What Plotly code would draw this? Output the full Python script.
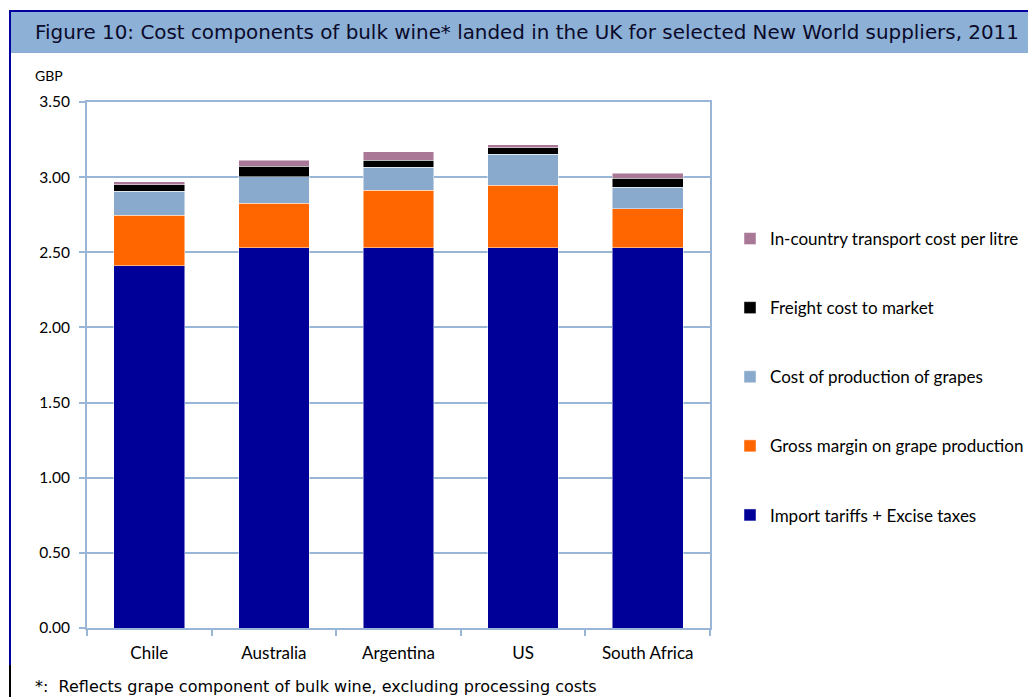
import plotly.graph_objects as go

countries = ["Chile", "Australia", "Argentina", "US", "South Africa"]
import_tariffs = [2.41, 2.53, 2.53, 2.53, 2.53]
gross_margin = [0.335, 0.297, 0.384, 0.417, 0.26]
cost_production = [0.16, 0.176, 0.153, 0.205, 0.144]
freight = [0.043, 0.069, 0.045, 0.042, 0.06]
in_country = [0.022, 0.04, 0.058, 0.02, 0.031]

series = [
    ("Import tariffs + Excise taxes", import_tariffs, "#000099"),
    ("Gross margin on grape production", gross_margin, "#FF6600"),
    ("Cost of production of grapes", cost_production, "#8AAACD"),
    ("Freight cost to market", freight, "#000000"),
    ("In-country transport cost per litre", in_country, "#A97897"),
]

W, H = 1028, 697
L, R, T, B = 87, 710, 102, 628

def px(x):
    return (x - L) / (R - L)

def py(y):
    return (B - y) / (B - T)

fig = go.Figure()
n = len(series)
for i, (name, vals, col) in enumerate(series):
    fig.add_trace(go.Bar(
        x=countries, y=vals, name=name,
        marker=dict(color=col, line=dict(color="rgba(255,255,255,0.6)", width=0.8)),
        legendgroup=f"g{i}",
        legendrank=(n - i) * 10,
    ))

grid_col = "#9AB6D6"
fig.update_layout(
    barmode="stack",
    bargap=0.433,
    width=W, height=H,
    margin=dict(l=L, r=W - R, t=T, b=H - B, autoexpand=False),
    paper_bgcolor="white",
    plot_bgcolor="white",
    font=dict(family="Lato", size=15, color="#000000"),
    showlegend=True,
    legend=dict(
        traceorder="grouped",
        x=px(730), y=py(221), xanchor="left", yanchor="top",
        tracegroupgap=44,
        font=dict(family="Lato", size=17, color="#000000"),
        itemwidth=30,
        bgcolor="rgba(0,0,0,0)",
    ),
    xaxis=dict(
        showgrid=False,
        showline=True, linecolor=grid_col, linewidth=2, mirror=True,
        ticks="outside", tickson="boundaries", ticklen=6, tickcolor=grid_col, tickwidth=1.5,
        tickfont=dict(family="Lato", size=17, color="#000000"),
        ticklabelstandoff=9,
        range=[-0.5, 4.5],
    ),
    yaxis=dict(
        range=[0, 3.5], dtick=0.5, tickformat=".2f",
        showgrid=True, gridcolor=grid_col, gridwidth=1.5,
        showline=True, linecolor=grid_col, linewidth=2, mirror=True,
        ticks="outside", ticklen=6, tickcolor=grid_col, tickwidth=1.5,
        tickfont=dict(family="Lato", size=15.5, color="#000000"),
        ticklabelstandoff=6,
        zeroline=False,
    ),
)

shapes = [
    # title bar
    dict(type="rect", xref="paper", yref="paper",
         x0=px(11), x1=px(W + 5), y0=py(53), y1=py(12),
         fillcolor="#8DB0D6", line=dict(width=0), layer="below"),
    # top border
    dict(type="line", xref="paper", yref="paper",
         x0=px(9), x1=px(W + 5), y0=py(11), y1=py(11),
         line=dict(color="#0000A0", width=2)),
    # left border blue
    dict(type="line", xref="paper", yref="paper",
         x0=px(10), x1=px(10), y0=py(10), y1=py(665),
         line=dict(color="#0000A0", width=2)),
    # left border black
    dict(type="line", xref="paper", yref="paper",
         x0=px(10), x1=px(10), y0=py(665), y1=py(H + 5),
         line=dict(color="#000000", width=2)),
]
fig.update_layout(shapes=shapes)

fig.add_annotation(
    text="Figure 10: Cost components of bulk wine* landed in the UK for selected New World suppliers, 2011",
    xref="paper", yref="paper", x=px(33), y=py(33),
    xanchor="left", yanchor="middle", showarrow=False,
    font=dict(family="DejaVu Sans", size=19.9, color="#0A0A2A"),
)
fig.add_annotation(
    text="GBP", xref="paper", yref="paper", x=px(33), y=py(75),
    xanchor="left", yanchor="middle", showarrow=False,
    font=dict(family="Lato", size=14, color="#000000"),
)
fig.add_annotation(
    text="*:  Reflects grape component of bulk wine, excluding processing costs",
    xref="paper", yref="paper", x=px(33), y=py(686),
    xanchor="left", yanchor="middle", showarrow=False,
    font=dict(family="DejaVu Sans", size=16, color="#000000"),
)

fig.write_html("out.html")
